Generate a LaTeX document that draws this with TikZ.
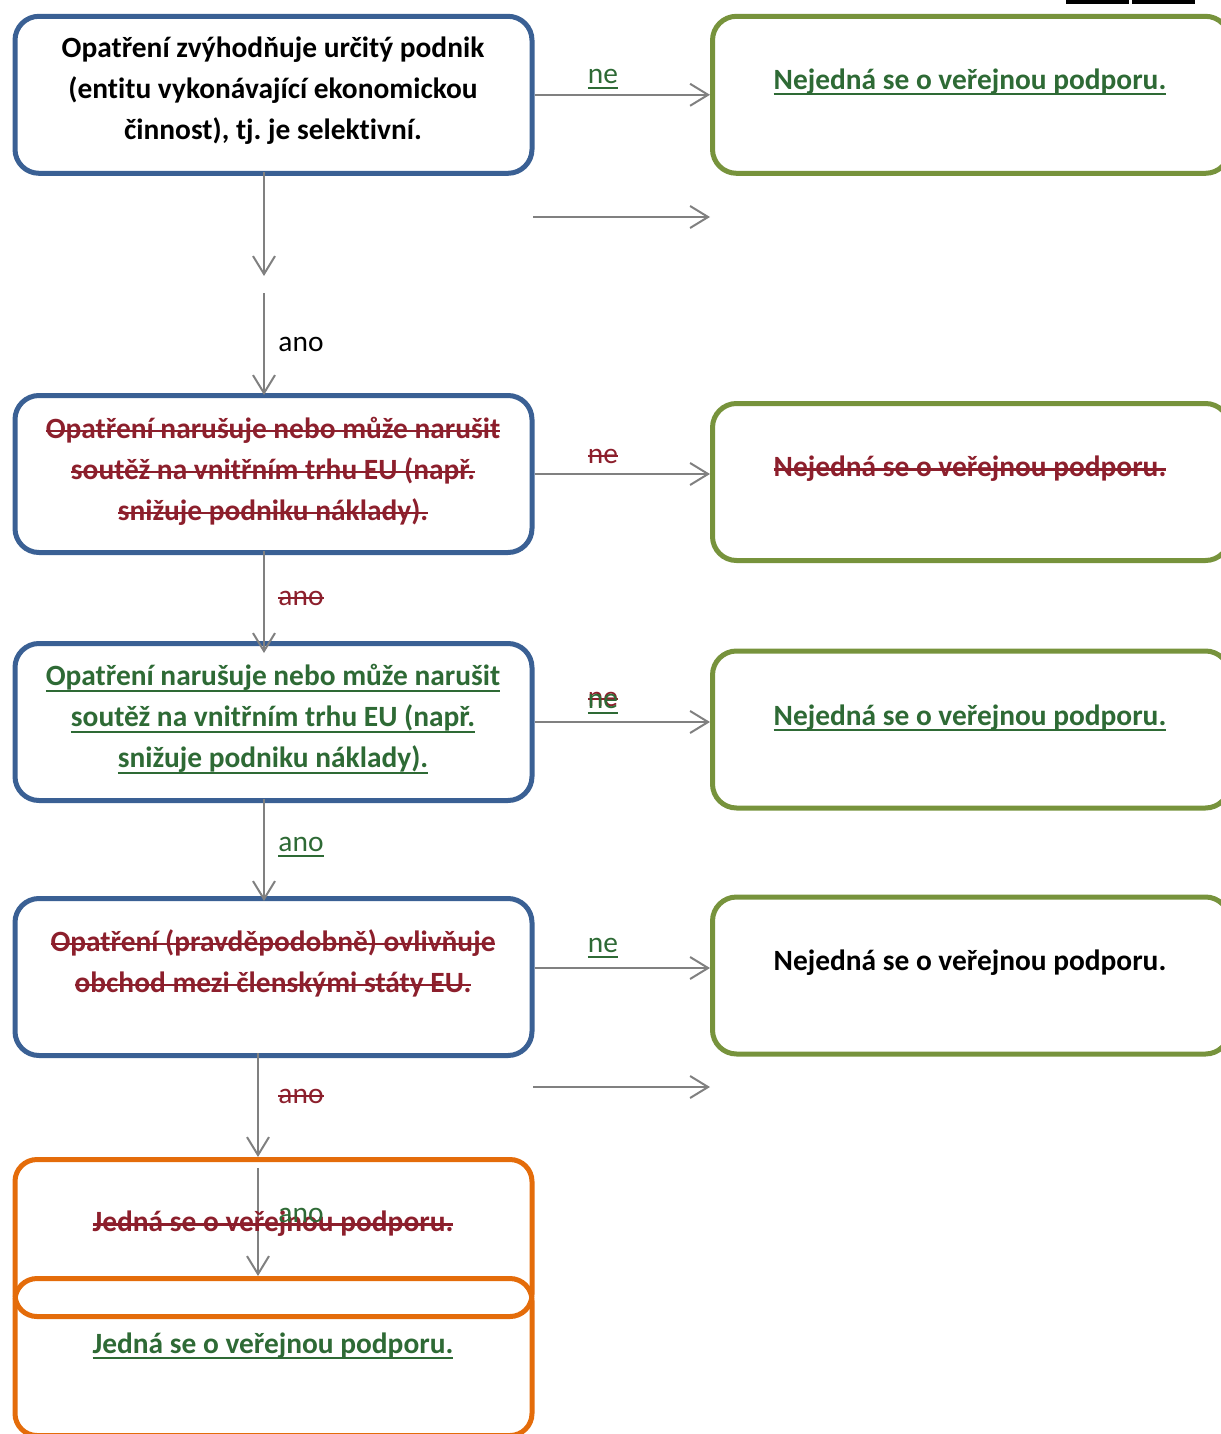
\documentclass[tikz,border=0pt]{standalone}
\usepackage{fontspec}
\setmainfont{Carlito}[Ligatures=NoCommon]
\usetikzlibrary{arrows.meta}
\definecolor{bluebox}{HTML}{3A6094}
\definecolor{greenbox}{HTML}{77933C}
\definecolor{orangebox}{HTML}{E46C0A}
\definecolor{redtxt}{HTML}{8C1F2C}
\definecolor{greentxt}{HTML}{2E6A35}
\definecolor{arrowgray}{HTML}{808080}
\frenchspacing
\newsavebox{\mytxtbox}
\newcommand{\rs}[1]{\textcolor{redtxt}{\sbox{\mytxtbox}{#1}\rlap{\rule[0.21em]{\wd\mytxtbox}{2.2pt}}\usebox{\mytxtbox}}}
\newcommand{\gu}[1]{\textcolor{greentxt}{\sbox{\mytxtbox}{#1}\rlap{\rule[-0.2em]{\wd\mytxtbox}{2pt}}\usebox{\mytxtbox}}}
\begin{document}
\begin{tikzpicture}[x=1pt,y=-1pt,
  box/.style={draw, rounded corners=24pt, line width=5pt, minimum width=517pt, minimum height=157pt, inner sep=0pt},
  bluebx/.style={box, draw=bluebox},
  greenbx/.style={box, draw=greenbox},
  orangebx/.style={box, draw=orangebox, rounded corners=22pt},
  txt/.style={font=\fontsize{29.4}{41}\selectfont\bfseries, align=center, inner sep=0pt},
  lbl/.style={font=\fontsize{29.4}{32}\selectfont, inner sep=0pt},
  conn/.style={draw=arrowgray, line width=2pt, -{Straight Barb[length=18pt,width=22pt,line width=2pt]}},
]
\useasboundingbox (0,0) rectangle (1220,1434);
\fill[black] (1066,0) rectangle (1129,4);
\fill[black] (1132,0) rectangle (1195,4);

% boxes
\node[bluebx] (b1) at (273.5,94.8) {};
\node[bluebx] (b2) at (273.5,474) {};
\node[bluebx] (b3) at (273.5,722) {};
\node[bluebx] (b4) at (273.5,977) {};
\node[greenbx] (g1) at (971,94.8) {};
\node[greenbx] (g2) at (971,482) {};
\node[greenbx] (g3) at (971,729.5) {};
\node[greenbx] (g4) at (971,975.5) {};
\node[orangebx] (o1) at (273.5,1238) {};
\node[orangebx] (o2) at (273.5,1357) {};

% free ends
\coordinate (p1) at (264,276);
\coordinate (p2) at (264,293);
\coordinate (s1a) at (533,217);
\coordinate (s1b) at (710,217);
\coordinate (s2a) at (533,1087);
\coordinate (s2b) at (710,1087);
\coordinate (p3) at (258,1168);

% connectors
\draw[conn] (b1.east) -- (g1.west);
\draw[conn] (s1a) -- (s1b);
\draw[conn] ([xshift=-9.5pt,yshift=4pt]b1.south) -- (p1);
\draw[conn] (p2) -- ([xshift=-9.5pt,yshift=-2pt]b2.north);
\draw[conn] (b2.east) -- (b2.east -| g2.west);
\draw[conn] ([xshift=-9.5pt,yshift=4pt]b2.south) -- ([xshift=-9.5pt,yshift=-12pt]b3.north);
\draw[conn] (b3.east) -- (b3.east -| g3.west);
\draw[conn] ([xshift=-9.5pt,yshift=4pt]b3.south) -- ([xshift=-9.5pt,yshift=-5pt]b4.north);
\draw[conn] ([yshift=9pt]b4.east) -- ([yshift=9pt]b4.east -| g4.west);
\draw[conn] (s2a) -- (s2b);
\draw[conn] ([xshift=-15.5pt,yshift=5pt]b4.south) -- ([xshift=-15.5pt,yshift=0pt]o1.north);
\draw[conn] (p3) -- ([xshift=-15.5pt]o2.north);

% box texts
\node[txt] (t1) at (273,91) {Opatření zvýhodňuje určitý podnik\\(entitu vykonávající ekonomickou\\činnost), tj. je selektivní.};
\node[txt] (t2) at (273,471) {\rs{Opatření narušuje nebo může narušit}\\\rs{soutěž na vnitřním trhu EU (např.}\\\rs{snižuje podniku náklady).}};
\node[txt] (t3) at (273,719) {\gu{Opatření narušuje nebo může narušit}\\\gu{soutěž na vnitřním trhu EU (např.}\\\gu{snižuje podniku náklady).}};
\node[txt] (t4) at (273,963) {\rs{Opatření (pravděpodobně) ovlivňuje}\\\rs{obchod mezi členskými státy EU.}};
\node[txt] (gt1) at (970,82) {\gu{Nejedná se o veřejnou podporu.}};
\node[txt] (gt2) at (970,469) {\rs{Nejedná se o veřejnou podporu.}};
\node[txt] (gt3) at (970,718) {\gu{Nejedná se o veřejnou podporu.}};
\node[txt] (gt4) at (970,963) {Nejedná se o veřejnou podporu.};
\node[txt] (ot1) at (273,1224) {\rs{Jedná se o veřejnou podporu.}};
\node[txt] (ot2) at (273,1346) {\gu{Jedná se o veřejnou podporu.}};

% labels
\node[lbl] (ne1) at (603,79) {\gu{ne}};
\node[lbl] (ne2) at (603,456) {\rs{ne}};
\node[lbl] (ne3a) at (603,699) {\rs{ne}};
\node[lbl] (ne3b) at (603,704) {\gu{ne}};
\node[lbl] (ne4) at (603,948) {\gu{ne}};
\node[lbl] (ano1) at (301,344) {ano};
\node[lbl] (ano2) at (301,598) {\rs{ano}};
\node[lbl] (ano3) at (301,847) {\gu{ano}};
\node[lbl] (ano4) at (301,1096) {\rs{ano}};
\node[lbl,text=greentxt] (ano5) at (301,1215) {ano};
\end{tikzpicture}
\end{document}
